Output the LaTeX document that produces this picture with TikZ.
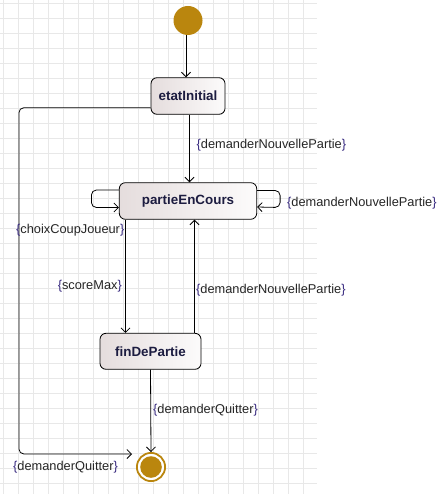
\documentclass[tikz,border=0pt]{standalone}
\usepackage{fontspec}
\setmainfont{Liberation Sans}
\usetikzlibrary{arrows.meta}
\definecolor{gold}{RGB}{186,134,14}
\definecolor{statetext}{RGB}{28,28,64}
\definecolor{bracec}{RGB}{56,42,128}
\definecolor{gridc}{RGB}{232,232,232}
\definecolor{boxl}{RGB}{229,221,221}
\definecolor{boxr}{RGB}{252,251,251}
\newcommand{\guard}[1]{\textcolor{bracec}{\{}#1\textcolor{bracec}{\}}}

\begin{document}
\begin{tikzpicture}[x=1pt,y=-1pt,
  statebox/.style={draw=black, line width=0.8pt, rounded corners=6pt,
    left color=boxl, right color=boxr, inner sep=0,
    font=\fontsize{13.4}{15}\selectfont\bfseries, text=statetext},
  guardlabel/.style={inner sep=0, font=\fontsize{12.8}{15}\selectfont, text=black!85},
  flow/.style={draw=black, line width=0.8pt, -{Straight Barb[length=4.5pt,width=9pt]}},
  gridline/.style={draw=gridc, line width=0.8pt}
  ]
  % canvas and background grid
  \useasboundingbox (0,0) rectangle (441,494);
  \fill[white] (0,0) rectangle (441,494);
  \foreach \x in {3,18,...,303} \draw[gridline] (\x,0) -- (\x,494);
  \foreach \y in {3,18,...,483} \draw[gridline] (0,\y) -- (317,\y);

  % states
  \node[circle, fill=gold, minimum size=29pt, inner sep=0] (init) at (188,20.5) {};
  \node[statebox, minimum width=74pt, minimum height=36.6pt] (etat) at (188,96) {etatInitial};
  \node[statebox, minimum width=137.4pt, minimum height=36.6pt] (pec) at (188,201) {partieEnCours};
  \node[statebox, minimum width=101pt, minimum height=36pt] (fin) at (150.5,351.3) {finDePartie};
  \node[circle, draw=gold, line width=1.8pt, fill=white, minimum size=28.2pt, inner sep=0] (final) at (151,467) {};
  \fill[gold] (final.center) circle (10.8);
  \coordinate (qEnd) at (132,454);

  % transitions
  \draw[flow] ([xshift=-2pt]init.south) -- ([xshift=-2pt]init.south |- etat.north);
  \draw[flow] ([xshift=1.5pt]etat.south) -- ([xshift=1.5pt]etat.south |- pec.north);
  \draw[flow, rounded corners=5pt] ([yshift=11pt]pec.west) -- ++(-27.5,0) -- ++(0,17.5) -- ([yshift=-6.5pt]pec.west);
  \draw[flow, rounded corners=5pt] ([yshift=10.5pt]pec.east) -- ++(23,0) -- ++(0,17) -- ([yshift=-6pt]pec.east);
  \draw[flow] ([xshift=-25pt]fin.north |- pec.south) -- ([xshift=-25pt]fin.north);
  \draw[flow] ([xshift=44pt]fin.north) -- ([xshift=44pt]fin.north |- pec.south);
  \draw[flow] (fin.south) -- (final.north);
  \draw[flow, rounded corners=5pt] ([yshift=-11.7pt]etat.west) -- ++(-131.7,0) |- (qEnd);

  % guards
  \node[guardlabel, anchor=west] (g1) at (196.5,145) {\guard{demanderNouvellePartie}};
  \node[guardlabel, anchor=east] (g2) at (124.5,230) {\guard{choixCoupJoueur}};
  \node[guardlabel, anchor=west] (g3) at (287,203) {\guard{demanderNouvellePartie}};
  \node[guardlabel, anchor=east] (g4) at (122,286) {\guard{scoreMax}};
  \node[guardlabel, anchor=west] (g5) at (196,290.5) {\guard{demanderNouvellePartie}};
  \node[guardlabel, anchor=west] (g6) at (153,410) {\guard{demanderQuitter}};
  \node[guardlabel, anchor=west] (g7) at (13,467) {\guard{demanderQuitter}};
\end{tikzpicture}
\end{document}
